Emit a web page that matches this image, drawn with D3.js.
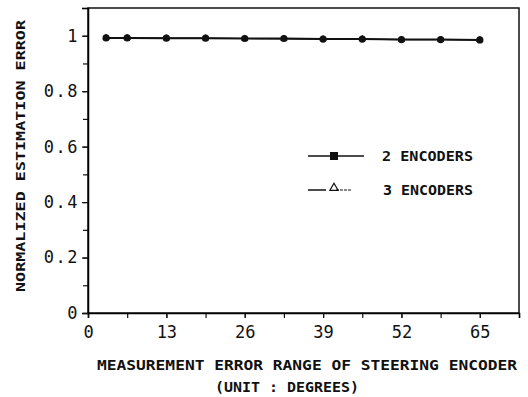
<!DOCTYPE html>
<html>
<head>
<meta charset="utf-8">
<script src="https://cdn.jsdelivr.net/npm/d3@7"></script>
<style>
  body { margin: 0; background: #fff; }
  text { fill: #111; }
</style>
</head>
<body>
<script>
const WIDTH = 528, HEIGHT = 397;
const MARGIN = {top: 8, right: 9, bottom: 84, left: 88};
const INNER_WIDTH = WIDTH - MARGIN.left - MARGIN.right;
const INNER_HEIGHT = HEIGHT - MARGIN.top - MARGIN.bottom;

// values
var xValues = [3, 6.5, 13, 19.5, 26, 32.5, 39, 45.5, 52, 58.5, 65];
var twoEncoders = [0.992, 0.992, 0.991, 0.991, 0.990, 0.990, 0.988, 0.988, 0.986, 0.986, 0.985];
var threeEncoders = [0.993, 0.992, 0.991, 0.991, 0.990, 0.989, 0.988, 0.988, 0.986, 0.986, 0.985];
var xTicks = [0, 13, 26, 39, 52, 65];
var yTicks = [0, 0.2, 0.4, 0.6, 0.8, 1];
var seriesNames = ['2 ENCODERS', '3 ENCODERS'];

var FONT = '"DejaVu Sans Mono", monospace';

var svg = d3.select('body').append('svg')
	.attr('width', WIDTH)
	.attr('height', HEIGHT);

var xScale = d3.scaleLinear().domain([0, 71.5]).range([0, INNER_WIDTH]);
var yScale = d3.scaleLinear().domain([0, 1.1]).range([INNER_HEIGHT, 0]);

var g = svg.append('g')
	.attr('transform', 'translate(' + MARGIN.left + ',' + MARGIN.top + ')');

// frame
g.append('rect')
	.attr('width', INNER_WIDTH)
	.attr('height', INNER_HEIGHT)
	.attr('fill', 'none')
	.attr('stroke', '#111')
	.attr('stroke-width', 1.5);

// minor ticks
g.append('g')
	.attr('transform', 'translate(0,' + INNER_HEIGHT + ')')
	.call(d3.axisBottom(xScale).tickValues(d3.range(0, 72, 6.5)).tickSize(5).tickFormat(''))
	.call(function(a){ a.select('.domain').remove(); });
g.append('g')
	.call(d3.axisLeft(yScale).tickValues(d3.range(0, 1.11, 0.1)).tickSize(5).tickFormat(''))
	.call(function(a){ a.select('.domain').remove(); });

// labelled axes
var xAxis = g.append('g')
	.attr('transform', 'translate(0,' + INNER_HEIGHT + ')')
	.call(d3.axisBottom(xScale).tickValues(xTicks).tickSize(5).tickPadding(8));
xAxis.select('.domain').attr('stroke-width', 1.5);
xAxis.selectAll('text')
	.style('font-family', FONT).style('font-size', '17px');

var yAxis = g.append('g')
	.call(d3.axisLeft(yScale).tickValues(yTicks).tickSize(6).tickPadding(3)
		.tickFormat(function(d){ return d3.format('~g')(d); }));
yAxis.select('.domain').attr('stroke-width', 1.5);
yAxis.selectAll('text')
	.style('font-family', FONT).style('font-size', '17px')
	.style('letter-spacing', '1.5px');
g.selectAll('.tick line').attr('stroke', '#111').attr('stroke-width', 1.2);

// lines
var line = d3.line()
	.x(function(d){ return xScale(d.x); })
	.y(function(d){ return yScale(d.y); });

var s3 = xValues.map(function(x, i){ return {x: x, y: threeEncoders[i]}; });
var s2 = xValues.map(function(x, i){ return {x: x, y: twoEncoders[i]}; });

g.append('path').attr('d', line(s3))
	.attr('fill', 'none').attr('stroke', '#111').attr('stroke-width', 1.2);
g.append('path').attr('d', line(s2))
	.attr('fill', 'none').attr('stroke', '#111').attr('stroke-width', 2);

// triangles sit under the dots (the two series overlap)
var triSmall = d3.symbol().type(d3.symbolTriangle).size(16);
g.append('g').selectAll('path')
	.data(s3).enter().append('path')
	.attr('d', triSmall)
	.attr('transform', function(d){ return 'translate(' + xScale(d.x) + ',' + yScale(d.y) + ')'; })
	.attr('fill', 'none').attr('stroke', '#111').attr('stroke-width', 1);

g.append('g').selectAll('circle')
	.data(s2).enter().append('circle')
	.attr('cx', function(d){ return xScale(d.x); })
	.attr('cy', function(d){ return yScale(d.y); })
	.attr('r', 3.6)
	.attr('fill', '#111');

// legend
var tri = d3.symbol().type(d3.symbolTriangle).size(30);
var legend = g.append('g').attr('transform', 'translate(220,148)');
legend.append('line').attr('x1', 0).attr('x2', 56).attr('y1', 0).attr('y2', 0)
	.attr('stroke', '#111').attr('stroke-width', 1.5);
legend.append('rect').attr('x', 22).attr('y', -4).attr('width', 8).attr('height', 8).attr('fill', '#111');
legend.append('text').attr('x', 74).attr('y', 5)
	.attr('textLength', 91).attr('lengthAdjust', 'spacingAndGlyphs')
	.text(seriesNames[0])
	.style('font-family', FONT).style('font-size', '14px').style('font-weight', 'bold');

legend.append('line').attr('x1', 0).attr('x2', 18).attr('y1', 34).attr('y2', 34)
	.attr('stroke', '#111').attr('stroke-width', 1.5);
legend.append('line').attr('x1', 28).attr('x2', 43).attr('y1', 34).attr('y2', 34)
	.attr('stroke', '#111').attr('stroke-width', 1).attr('stroke-dasharray', '3,1');
legend.append('path').attr('d', tri).attr('transform', 'translate(26,32)')
	.attr('fill', 'none').attr('stroke', '#111').attr('stroke-width', 1.2);
legend.append('text').attr('x', 75).attr('y', 39)
	.attr('textLength', 90).attr('lengthAdjust', 'spacingAndGlyphs')
	.text(seriesNames[1])
	.style('font-family', FONT).style('font-size', '14px').style('font-weight', 'bold');

// axis titles
svg.append('text')
	.attr('x', 97).attr('y', 370)
	.attr('textLength', 420).attr('lengthAdjust', 'spacingAndGlyphs')
	.text('MEASUREMENT ERROR RANGE OF STEERING ENCODER')
	.style('font-family', FONT).style('font-size', '14px').style('font-weight', 'bold');
svg.append('text')
	.attr('x', 215).attr('y', 392)
	.attr('textLength', 144).attr('lengthAdjust', 'spacingAndGlyphs')
	.text('(UNIT :  DEGREES)')
	.style('font-family', FONT).style('font-size', '14px').style('font-weight', 'bold');
svg.append('text')
	.attr('transform', 'translate(25,292) rotate(-90)')
	.attr('textLength', 272).attr('lengthAdjust', 'spacingAndGlyphs')
	.text('NORMALIZED ESTIMATION ERROR')
	.style('font-family', FONT).style('font-size', '13px').style('font-weight', 'bold');
</script>
</body>
</html>
